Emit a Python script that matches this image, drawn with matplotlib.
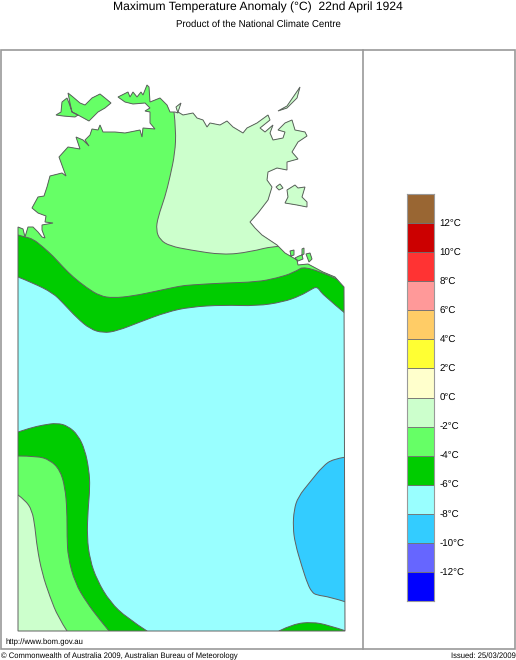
import matplotlib
matplotlib.use('Agg')
import matplotlib.pyplot as plt
from matplotlib.patches import PathPatch, Rectangle
from matplotlib.path import Path

plt.rcParams['font.family'] = ['Liberation Sans', 'DejaVu Sans']
plt.rcParams['text.hinting'] = 'no_hinting'

# Colour bar, bottom to top
bar_edges = [-14, -12, -10, -8, -6, -4, -2, 0, 2, 4, 6, 8, 10, 12]
bar_colours = ['#0000FF', '#6666FF', '#33CCFF', '#99FFFF', '#00CC00', '#66FF66', '#CCFFCC',
               '#FFFFCC', '#FFFF33', '#FFCC66', '#FF9999', '#FF3333', '#CC0000', '#996633']
tick_values = [-12, -10, -8, -6, -4, -2, 0, 2, 4, 6, 8, 10, 12]
tick_labels = ['-12°C', '-10°C', '-8°C', '-6°C', '-4°C', '-2°C', '0°C',
               '2°C', '4°C', '6°C', '8°C', '10°C', '12°C']

# Land outlines in image pixels
mainland = [(18, 227), (23, 229), (25, 237), (28, 227), (33, 227), (38, 232), (42, 237), (45, 238),
            (42, 230), (42, 225), (53, 223), (45, 222), (46, 216), (38, 213), (32, 208), (38, 197),
            (44, 196), (47, 187), (50, 176), (62, 173), (66, 176), (63, 168), (59, 157), (68, 147),
            (80, 149), (76, 137), (83, 140), (89, 146), (85, 140), (90, 135), (92, 129), (98, 130),
            (100, 125), (103, 132), (115, 132), (125, 133), (140, 130), (142, 137), (143, 128),
            (155, 129), (150, 123), (150, 112), (145, 111), (150, 108), (145, 103), (133, 104),
            (125, 102), (118, 97), (128, 92), (130, 97), (133, 92), (137, 97), (141, 92), (143, 95),
            (147, 85), (149, 87), (150, 102), (160, 98), (167, 105), (170, 112),
            (175, 112), (178, 113), (176, 107), (181, 103), (178, 112), (183, 115), (193, 113),
            (197, 118), (203, 120), (207, 127), (210, 123), (220, 125), (227, 121), (233, 127),
            (243, 133), (247, 128), (257, 123), (268, 115), (270, 120), (260, 128), (265, 132),
            (273, 125), (270, 133), (273, 140), (283, 138), (285, 132), (278, 130), (285, 123),
            (292, 120), (295, 130), (305, 132), (307, 136), (298, 142), (292, 152), (298, 159),
            (287, 162), (287, 170), (277, 168), (268, 172), (267, 180), (272, 187), (268, 200),
            (258, 213), (250, 222), (255, 228), (262, 235), (277, 245), (285, 253), (297, 260),
            (298, 265), (308, 264), (323, 272), (335, 277), (344, 287), (345, 631), (18, 631)]
melville = [(68, 93), (73, 97), (80, 103), (85, 105), (92, 98), (100, 94), (105, 98), (111, 103),
            (105, 108), (98, 112), (89, 121), (78, 115), (72, 112), (70, 103)]
bathurst = [(56, 115), (61, 112), (62, 102), (67, 98), (69, 103), (72, 112), (78, 115), (75, 117),
            (63, 116)]
groote = [(287, 190), (295, 185), (298, 188), (305, 187), (302, 197), (307, 202), (307, 207),
          (297, 205), (285, 203), (288, 197)]
croker = [(278, 111), (287, 106), (298, 90), (300, 87), (297, 98), (287, 108)]
islet_a = [(276, 187), (280, 184), (283, 188), (279, 190)]
islet_b = [(290, 251), (294, 250), (294, 255), (291, 256)]
islet_c = [(306, 254), (310, 253), (312, 259), (309, 262)]
islet_d = [(302, 249), (304, 248), (304, 254), (302, 255)]
islet_e = [(295, 258), (299, 256), (302, 255), (303, 259), (298, 261)]

# Anomaly band edges in image pixels
band_6_edge = [(18, 277), (33, 283), (53, 293), (63, 303), (77, 318), (90, 329), (103, 333),
               (117, 331), (140, 322), (167, 312), (190, 307), (223, 305), (257, 306), (283, 302),
               (300, 296), (312, 289), (316, 287), (319, 289), (323, 295), (346, 314)]
band_4_edge = [(18, 235), (25, 237), (33, 239), (43, 247), (53, 256), (63, 267), (73, 277), (87, 288),
               (100, 296), (113, 298), (133, 296), (157, 291), (180, 286), (190, 285), (223, 283),
               (257, 282), (277, 278), (293, 273), (308, 264), (360, 290)]
band_2_edge = [(174, 112), (176, 130), (175, 153), (170, 177), (165, 197), (158, 217), (156, 230),
               (160, 240), (170, 246), (190, 250), (223, 255), (250, 252), (277, 245), (360, 240)]
sw_6_edge = [(18, 432), (30, 428), (43, 425), (57, 423), (68, 426), (78, 435), (85, 450), (89, 470),
             (90, 487), (88, 510), (87, 537), (90, 560), (97, 580), (110, 602), (127, 618), (147, 631)]
sw_4_edge = [(18, 456), (37, 456), (50, 460), (60, 470), (65, 487), (67, 510), (67, 537), (68, 557),
             (75, 583), (87, 603), (100, 620), (109, 631)]
sw_2_edge = [(18, 495), (25, 500), (32, 510), (35, 527), (37, 547), (42, 573), (50, 597), (58, 617),
             (67, 631)]
east_8_edge = [(346, 457), (333, 459), (323, 466), (310, 482), (298, 497), (294, 510), (293, 527),
               (295, 543), (302, 567), (308, 585), (312, 592), (316, 595), (330, 597), (346, 602)]
south_6_edge = [(279, 631), (293, 624), (312, 622), (328, 625), (346, 631)]


def band_path(edge, closing):
    # curved edge through the read points, straight lines round the outside
    verts = [edge[0]]
    codes = [Path.MOVETO]
    for i in range(1, len(edge) - 1):
        a, b = edge[i], edge[i + 1]
        mid = ((a[0] + b[0]) / 2, (a[1] + b[1]) / 2) if i < len(edge) - 2 else b
        verts += [a, mid]
        codes += [Path.CURVE3, Path.CURVE3]
    verts += closing + [edge[0]]
    codes += [Path.LINETO] * len(closing) + [Path.CLOSEPOLY]
    return Path(verts, codes)


fig = plt.figure(figsize=(5.16, 6.60), dpi=100)
ax = fig.add_axes([0, 0, 1, 1])
ax.set_xlim(0, 516)
ax.set_ylim(660, 0)
ax.axis('off')

# Outer frame and divider
ax.add_patch(Rectangle((0.5, 50), 514.5, 598.5, fill=False, edgecolor='#999999', lw=1.2))
ax.plot([362.5, 362.5], [50, 648.5], color='#999999', lw=1.2)

# Land is the clip for every band
verts, codes = [], []
for shape in [mainland, melville, bathurst, groote, croker, islet_a, islet_b, islet_c, islet_d, islet_e]:
    verts += shape + [shape[0]]
    codes += [Path.MOVETO] + [Path.LINETO] * (len(shape) - 1) + [Path.CLOSEPOLY]
land_path = Path(verts, codes)
ax.add_patch(PathPatch(land_path, facecolor='#99FFFF', edgecolor='none', zorder=1))

line_col = '#606060'
bands = [
    (band_6_edge, [(360, 320), (360, 40), (0, 40), (0, 277)], '#00CC00'),
    (band_4_edge, [(360, 40), (0, 40), (0, 235)], '#66FF66'),
    (band_2_edge, [(360, 60), (174, 60)], '#CCFFCC'),
    (sw_6_edge, [(147, 650), (0, 650), (0, 432)], '#00CC00'),
    (sw_4_edge, [(109, 650), (0, 650), (0, 456)], '#66FF66'),
    (sw_2_edge, [(67, 650), (0, 650), (0, 495)], '#CCFFCC'),
    (east_8_edge, [(400, 602), (400, 457)], '#33CCFF'),
    (south_6_edge, [(346, 650), (279, 650)], '#00CC00'),
]
for edge, closing, col in bands:
    p = PathPatch(band_path(edge, closing), facecolor=col, edgecolor=line_col, lw=0.7, zorder=2)
    ax.add_patch(p)
    p.set_clip_path(land_path, ax.transData)

# Coast line on top
ax.add_patch(PathPatch(land_path, facecolor='none', edgecolor=line_col, lw=0.7, zorder=3))

# Titles and footer
ax.text(257.5, 7.5, 'Maximum Temperature Anomaly (°C)  22nd April 1924', ha='center', va='center', fontsize=8.7)
ax.text(258, 24.5, 'Product of the National Climate Centre', ha='center', va='center', fontsize=6.9)
ax.text(5, 642, 'http://www.bom.gov.au', ha='left', va='center', fontsize=5.6)
ax.text(1, 656, '© Commonwealth of Australia 2009, Australian Bureau of Meteorology', ha='left', va='center', fontsize=5.5)
ax.text(515.5, 656, 'Issued: 25/03/2009', ha='right', va='center', fontsize=5.5)

# Colour bar
cax = fig.add_axes([407 / 516, 1 - 601 / 660, 27 / 516, 407 / 660])
cax.bar([0] * len(bar_edges), [2] * len(bar_edges), bottom=bar_edges, width=1, color=bar_colours,
        edgecolor='#707070', lw=0.6)
cax.set_xlim(-0.5, 0.5)
cax.set_ylim(-14, 14)
cax.set_xticks([])
cax.yaxis.tick_right()
cax.set_yticks(tick_values)
cax.set_yticklabels(tick_labels, fontsize=7)
cax.tick_params(axis='y', length=0, pad=4)
for s in cax.spines.values():
    s.set_color('#999999')
    s.set_linewidth(0.8)

plt.savefig('out.png', dpi=100)
